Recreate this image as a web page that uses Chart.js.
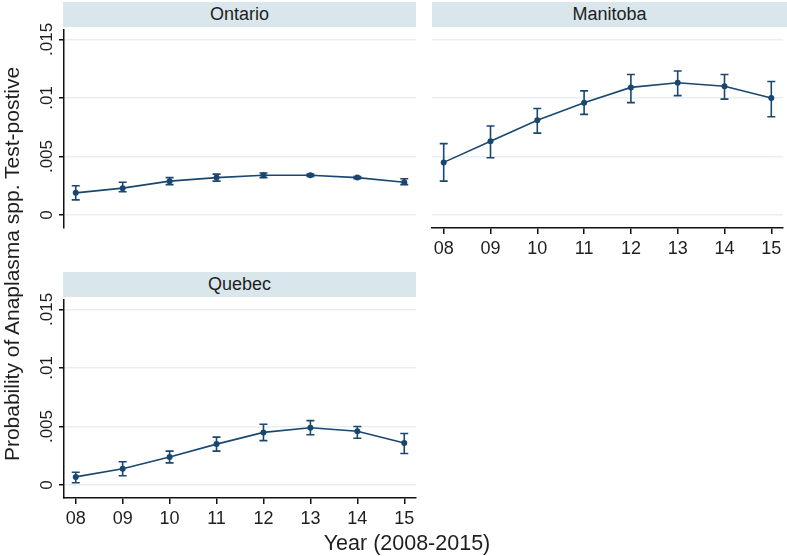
<!DOCTYPE html>
<html lang="en">
<head>
    <meta charset="UTF-8">
    <title>Probability of Anaplasma spp. test-positive by province</title>
    <script src="https://cdn.jsdelivr.net/npm/chart.js@4"></script>
    <style>
        body {
            margin: 0;
            background: #ffffff;
            font-family: "Liberation Sans", Arial, sans-serif;
            color: #1e1e1e;
        }

        #page {
            position: relative;
            width: 787px;
            height: 556px;
            overflow: hidden;
        }

        #page canvas {
            position: absolute;
            left: 0;
            top: 0;
        }

        .strip {
            position: absolute;
            height: 25px;
            line-height: 25px;
            background: #d9e6ec;
            text-align: center;
            font-size: 18px;
            z-index: 5;
        }

        .axis-title {
            position: absolute;
            font-size: 20px;
            white-space: nowrap;
            text-align: center;
            z-index: 5;
        }

        #ytitle {
            left: 12px;
            top: 264px;
            width: 440px;
            margin-left: -220px;
            margin-top: -12px;
            line-height: 24px;
            transform: rotate(-90deg);
            font-size: 21px;
        }

        #xtitle {
            left: 407px;
            top: 531px;
            width: 240px;
            margin-left: -120px;
            line-height: 24px;
            font-size: 21.5px;
        }
    </style>
</head>
<body>
    <div id="page">
        <canvas id="ontario" width="787" height="556"></canvas>
        <canvas id="manitoba" width="787" height="556"></canvas>
        <canvas id="quebec" width="787" height="556"></canvas>

        <div class="strip" style="left:63px; top:2px; width:353px;">Ontario</div>
        <div class="strip" style="left:432px; top:2px; width:355px;">Manitoba</div>
        <div class="strip" style="left:63px; top:272px; width:353px;">Quebec</div>

        <div id="ytitle" class="axis-title">Probability of Anaplasma spp. Test-postive</div>
        <div id="xtitle" class="axis-title">Year (2008-2015)</div>
    </div>

    <script>
        // 数据
        const years = [2008, 2009, 2010, 2011, 2012, 2013, 2014, 2015];
        const yearLabels = ['08', '09', '10', '11', '12', '13', '14', '15'];
        const yTicks = [0, 0.005, 0.01, 0.015];
        const yTickLabels = ['0', '.005', '.01', '.015'];

        const ontarioP  = [0.0019, 0.0023, 0.0029, 0.0032, 0.0034, 0.0034, 0.0032, 0.0028];
        const ontarioLo = [0.0013, 0.0020, 0.0026, 0.0029, 0.0032, 0.0033, 0.0031, 0.0026];
        const ontarioHi = [0.0025, 0.0028, 0.0032, 0.0035, 0.0036, 0.0035, 0.0033, 0.0031];

        const manitobaP  = [0.0045, 0.0063, 0.0081, 0.0096, 0.0109, 0.0113, 0.0110, 0.0100];
        const manitobaLo = [0.0029, 0.0049, 0.0070, 0.0086, 0.0096, 0.0102, 0.0099, 0.0084];
        const manitobaHi = [0.0061, 0.0076, 0.0091, 0.0106, 0.0120, 0.0123, 0.0120, 0.0114];

        const quebecP  = [0.0007, 0.0014, 0.0024, 0.0035, 0.0045, 0.0049, 0.0046, 0.0036];
        const quebecLo = [0.0002, 0.0008, 0.0019, 0.0029, 0.0038, 0.0043, 0.0040, 0.0027];
        const quebecHi = [0.0011, 0.0020, 0.0029, 0.0041, 0.0052, 0.0055, 0.0050, 0.0044];

        const navy = '#1a476f';
        const axisColor = '#111111';
        const gridColor = '#e7eff2';
        const fontFamily = '"Liberation Sans", Arial, sans-serif';
        const xAxisHeight = 30;

        // 误差线
        const errorBars = {
            id: 'errorBars',
            afterDatasetsDraw(chart, args, opts) {
                const ctx = chart.ctx;
                const xs = chart.scales.x;
                const ys = chart.scales.y;
                ctx.save();
                ctx.strokeStyle = navy;
                ctx.lineWidth = 1.6;
                years.forEach((yr, i) => {
                    const x = xs.getPixelForValue(yr);
                    const y1 = ys.getPixelForValue(opts.lo[i]);
                    const y2 = ys.getPixelForValue(opts.hi[i]);
                    ctx.beginPath();
                    ctx.moveTo(x, y1);
                    ctx.lineTo(x, y2);
                    ctx.moveTo(x - 4, y1);
                    ctx.lineTo(x + 4, y1);
                    ctx.moveTo(x - 4, y2);
                    ctx.lineTo(x + 4, y2);
                    ctx.stroke();
                });
                ctx.restore();
            }
        };

        // 竖排的 y 轴刻度
        const yLabels = {
            id: 'yLabels',
            afterDraw(chart, args, opts) {
                if (!opts.show) return;
                const ctx = chart.ctx;
                const ys = chart.scales.y;
                const x = chart.chartArea.left - 17;
                ctx.save();
                ctx.fillStyle = '#1e1e1e';
                ctx.font = '17px ' + fontFamily;
                ctx.textAlign = 'center';
                ctx.textBaseline = 'middle';
                ys.ticks.forEach(t => {
                    const y = ys.getPixelForValue(t.value);
                    ctx.save();
                    ctx.translate(x, y);
                    ctx.rotate(-Math.PI / 2);
                    ctx.fillText(yTickLabels[yTicks.indexOf(t.value)], 0, 0);
                    ctx.restore();
                });
                ctx.restore();
            }
        };

        function makePanel(id, p, lo, hi, area, showX, showY) {
            const xh = showX ? xAxisHeight : 0;
            return new Chart(document.getElementById(id), {
                type: 'line',
                data: {
                    datasets: [{
                        data: years.map((yr, i) => ({ x: yr, y: p[i] })),
                        borderColor: navy,
                        borderWidth: 1.6,
                        backgroundColor: navy,
                        pointRadius: 3,
                        pointBackgroundColor: navy,
                        pointBorderWidth: 0,
                        tension: 0
                    }]
                },
                options: {
                    responsive: false,
                    animation: false,
                    events: [],
                    layout: {
                        padding: {
                            left: area.left,
                            right: 787 - area.right,
                            top: area.top,
                            bottom: 556 - area.bottom - xh
                        }
                    },
                    plugins: {
                        legend: { display: false },
                        tooltip: { enabled: false },
                        errorBars: { lo: lo, hi: hi },
                        yLabels: { show: showY }
                    },
                    scales: {
                        x: {
                            type: 'linear',
                            min: 2007.75,
                            max: 2015.25,
                            display: showX,
                            afterBuildTicks: s => { s.ticks = years.map(v => ({ value: v })); },
                            afterFit: s => { s.height = xh; s.paddingLeft = 0; s.paddingRight = 0; },
                            grid: {
                                drawOnChartArea: false,
                                drawTicks: true,
                                tickLength: 6,
                                tickColor: axisColor,
                                lineWidth: 1.5
                            },
                            border: { display: true, color: axisColor, width: 1.5 },
                            ticks: {
                                padding: 4,
                                color: '#1e1e1e',
                                font: { family: fontFamily, size: 18 },
                                maxRotation: 0,
                                autoSkip: false,
                                callback: v => yearLabels[years.indexOf(v)]
                            }
                        },
                        y: {
                            min: -0.0011,
                            max: 0.0158,
                            afterBuildTicks: s => { s.ticks = yTicks.map(v => ({ value: v })); },
                            afterFit: s => { s.width = 0; s.paddingTop = 0; s.paddingBottom = 0; },
                            grid: {
                                color: gridColor,
                                lineWidth: 1.5,
                                drawTicks: showY,
                                tickLength: 5,
                                tickColor: axisColor
                            },
                            border: { display: showY, color: axisColor, width: 1.5 },
                            ticks: { display: false }
                        }
                    }
                },
                plugins: [errorBars, yLabels]
            });
        }

        makePanel('ontario', ontarioP, ontarioLo, ontarioHi,
            { left: 64, right: 416, top: 30, bottom: 228 }, false, true);
        makePanel('manitoba', manitobaP, manitobaLo, manitobaHi,
            { left: 432, right: 785, top: 30, bottom: 228 }, true, false);
        makePanel('quebec', quebecP, quebecLo, quebecHi,
            { left: 64, right: 416, top: 300, bottom: 498 }, true, true);
    </script>
</body>
</html>
